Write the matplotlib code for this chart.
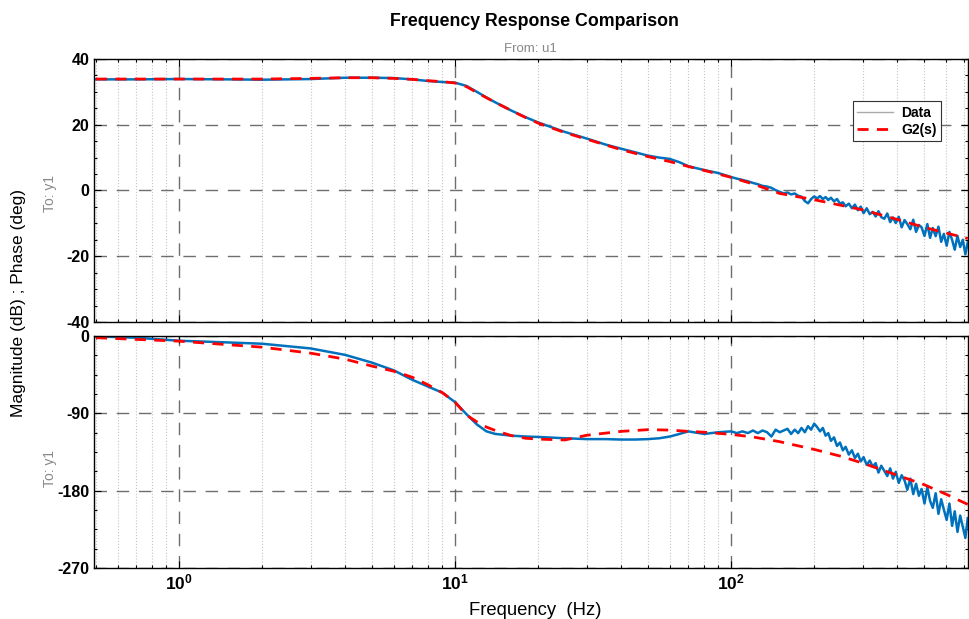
import matplotlib
matplotlib.use("Agg")
import matplotlib.pyplot as plt
from matplotlib.lines import Line2D
from matplotlib.ticker import LogLocator, NullFormatter, FixedLocator, AutoMinorLocator

plt.rcParams["font.family"] = ["Liberation Sans", "DejaVu Sans"]
plt.rcParams["axes.unicode_minus"] = False

# ---- measured data (frequency in Hz, magnitude in dB, phase in deg) ----
data_freq = [
    0.5, 0.7, 1, 1.5, 2, 3, 4, 5, 6, 7, 8, 9, 10, 11, 12, 13, 14, 16, 18, 20,
    25, 30, 35, 40, 45, 50, 55, 60, 65, 70, 80, 90,
    100, 105, 110, 115, 120, 125, 130, 135, 140, 145,
    150, 155, 160, 165, 170, 175, 180, 185, 190, 195, 200, 205, 210, 215, 220,
    225, 230, 236, 242, 248, 254, 260, 267, 274, 281, 288, 295,
    302, 310, 318, 326, 334, 342, 350, 359, 368, 377, 386, 395, 405, 415, 425,
    435, 446, 457, 468, 479, 490, 502, 514, 526, 538, 551, 564, 577, 590, 604,
    618, 632, 646, 661, 676, 691, 706, 720,
]
data_mag = [
    33.8, 33.8, 33.9, 33.8, 33.7, 33.9, 34.3, 34.3, 34.2, 33.8, 33.3, 33.0, 32.8,
    31.8, 30.0, 28.3, 26.8, 24.3, 22.3, 20.7,
    17.8, 15.8, 14.0, 12.7, 11.6, 10.6, 10.0, 9.6, 8.6, 7.4, 6.2, 5.3,
    4.1, 3.6, 3.2, 2.8, 2.3, 1.9, 1.4, 1.2, 0.8, 0.1,
    -0.4, -0.9, -0.6, -1.2, -0.9, -1.6, -1.9, -3.2, -3.9, -2.6, -1.8, -2.4, -1.7,
    -2.6, -2.0, -2.9, -2.2, -3.3, -2.6, -4.0, -3.6, -4.8, -4.0, -5.4, -4.3, -6.0,
    -4.9,
    -6.9, -5.4, -7.2, -6.5, -7.9, -6.3, -8.1, -8.6, -7.0, -9.6, -8.2, -9.9, -8.0,
    -11.2, -9.0, -10.2, -11.8, -8.9, -12.6, -10.5, -11.2, -13.8, -10.2, -14.4,
    -11.4, -13.9, -11.0, -15.6, -13.2, -16.8, -12.6, -15.0, -18.0, -13.8, -17.2,
    -15.0, -19.4, -15.8,
]
data_phase = [
    -0.5, -2, -5.5, -7.5, -9, -14.5, -22, -31, -40, -51, -59, -66, -77, -91,
    -103, -111, -114, -116, -117, -117.5,
    -119, -120, -120, -120.5, -120.5, -120, -119, -117, -114, -111, -114, -112,
    -111, -113, -111, -113, -110, -113, -110, -112, -117, -109,
    -112, -110, -108, -114, -109, -113, -107, -112, -105, -109, -102, -106, -111,
    -107, -116, -113, -122, -118, -128, -124, -133, -129, -138, -133, -142, -137,
    -146,
    -141, -150, -145, -152, -148, -159, -151, -157, -163, -154, -166, -158, -171,
    -162, -168, -179, -166, -184, -172, -186, -178, -195, -176, -192, -200, -183,
    -207, -190, -202, -214, -195, -221, -204, -228, -209, -222, -235, -212,
]

# ---- fitted model G2(s) ----
model_freq = [
    0.5, 1, 2, 3, 4, 5, 6, 7, 8, 9, 10, 11, 12, 13, 14, 16, 18, 20, 25, 30, 40,
    50, 60, 70, 80, 100, 120, 150, 200, 250, 300, 400, 500, 600, 720,
]
model_mag = [
    33.9, 33.9, 33.9, 34.1, 34.3, 34.3, 34.1, 33.8, 33.4, 33.1, 32.7, 31.6, 29.8,
    28.2, 26.8, 24.3, 22.2, 20.5, 17.6, 15.6, 12.4, 10.3, 8.8, 7.3, 6.1, 4.0, 2.0,
    -0.9, -2.8, -4.5, -5.9, -8.8, -11.2, -12.9, -14.6,
]
model_phase = [
    -2, -6, -13, -20, -27, -35, -41, -48, -57, -66, -77, -92, -100, -106, -110,
    -116, -119, -120, -121, -115.5, -111, -109, -109.5, -111, -112, -114.5, -117.5,
    -123, -132, -140, -148, -162, -173, -184, -196,
]

mag_ticks = [-40, -20, 0, 20, 40]
phase_ticks = [-270, -180, -90, 0]

blue = "#0072BD"
red = "#FF0000"
dash = (0, (4, 3))

fig = plt.figure(figsize=(9.7, 6.19), dpi=100)
ax_mag = fig.add_axes([0.0969, 0.4798, 0.9011, 0.4249])
ax_ph = fig.add_axes([0.0969, 0.0824, 0.9011, 0.3748])

ax_mag.plot(data_freq, data_mag, color=blue, lw=1.8)
ax_mag.plot(model_freq, model_mag, color=red, lw=2, ls=dash)
ax_ph.plot(data_freq, data_phase, color=blue, lw=1.8)
ax_ph.plot(model_freq, model_phase, color=red, lw=2, ls=dash)

for ax, ticks in ((ax_mag, mag_ticks), (ax_ph, phase_ticks)):
    ax.set_xscale("log")
    ax.set_xlim(0.492, 722)
    ax.set_ylim(ticks[0], ticks[-1])
    ax.yaxis.set_major_locator(FixedLocator(ticks))
    ax.yaxis.set_minor_locator(AutoMinorLocator(4))
    ax.xaxis.set_major_locator(LogLocator(base=10))
    ax.xaxis.set_minor_locator(LogLocator(base=10, subs=range(2, 10)))
    ax.xaxis.set_minor_formatter(NullFormatter())
    ax.grid(True, which="major", color="#555555", ls=(0, (9, 7)), lw=1.0, alpha=0.85)
    ax.grid(True, which="minor", axis="x", color="#c4c4c4", ls=":", lw=0.8)
    ax.tick_params(which="both", direction="in", top=True, right=True, width=0.8)
    ax.tick_params(which="major", length=5, labelsize=11.5)
    ax.tick_params(which="minor", length=2.5)
    for lab in ax.get_yticklabels() + ax.get_xticklabels():
        lab.set_fontweight("bold")
    for sp in ax.spines.values():
        sp.set_linewidth(1.0)
    ax.set_axisbelow(True)

ax_mag.tick_params(labelbottom=False)
for lab in ax_ph.get_xticklabels():
    lab.set_fontweight("bold")
    lab.set_fontsize(12.5)

legend_handles = [
    Line2D([], [], color="#aaaaaa", lw=1),
    Line2D([], [], color=red, lw=2, ls=dash),
]
leg = ax_mag.legend(legend_handles, ["Data", "G2(s)"], loc="upper right",
                    bbox_to_anchor=(0.977, 0.865), fancybox=False, framealpha=1,
                    edgecolor="#333333", prop={"weight": "bold", "size": 10},
                    handlelength=2.6, borderpad=0.3, labelspacing=0.25,
                    handletextpad=0.6)
leg.get_frame().set_linewidth(0.8)

fig.text(0.551, 0.966, "Frequency Response Comparison", ha="center", va="center",
         fontsize=12.8, fontweight="bold")
fig.text(0.547, 0.921, "From: u1", ha="center", va="center", fontsize=9.5, color="#888888")
fig.text(0.019, 0.51, "Magnitude (dB) ; Phase (deg)", rotation=90, ha="center",
         va="center", fontsize=12.5)
fig.text(0.052, 0.688, "To: y1", rotation=90, ha="center", va="center",
         fontsize=10, color="#888888")
fig.text(0.052, 0.243, "To: y1", rotation=90, ha="center", va="center",
         fontsize=10, color="#888888")
fig.text(0.552, 0.014, "Frequency  (Hz)", ha="center", va="center", fontsize=13.3)

fig.savefig("out.png", dpi=100)
